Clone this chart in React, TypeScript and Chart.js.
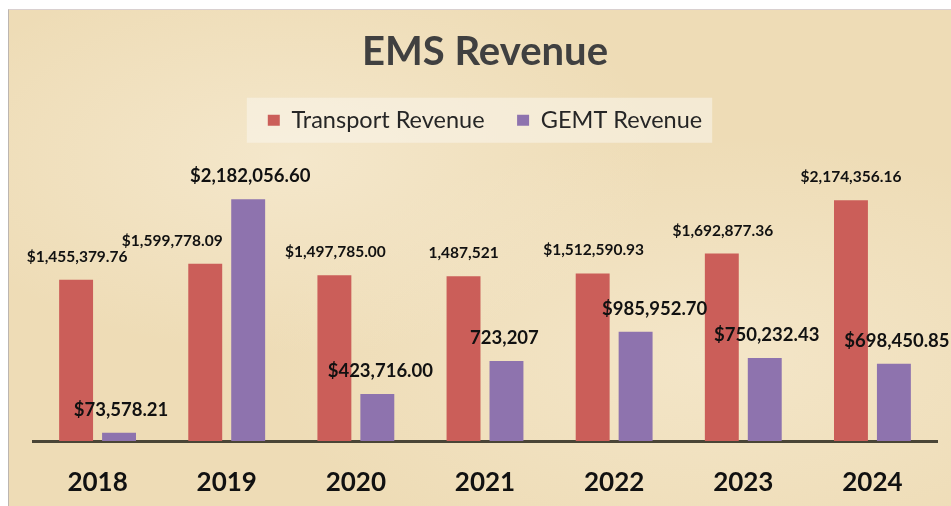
import React, { useEffect, useRef } from "react";
import { Chart, registerables } from "chart.js";

Chart.register(...registerables);

const years = ["2018", "2019", "2020", "2021", "2022", "2023", "2024"];
const transportRevenue = [1455379.76, 1599778.09, 1497785.0, 1487521, 1512590.93, 1692877.36, 2174356.16];
const gemtRevenue = [73578.21, 2182056.6, 423716.0, 723207, 985952.7, 750232.43, 698450.85];
const transportLabels = ["$1,455,379.76", "$1,599,778.09", "$1,497,785.00", "1,487,521", "$1,512,590.93", "$1,692,877.36", "$2,174,356.16"];
const gemtLabels = ["$73,578.21", "$2,182,056.60", "$423,716.00", "723,207", "$985,952.70", "$750,232.43", "$698,450.85"];
const yMax = 2700000;

// label nudges (layout only)
const labelNudgeX = [
  [1, -33, 1, 0, 1, 1, 0],
  [2, 2, 3, -2, 19, 2, 3],
];
const labelFonts = [
  { size: 15.5, weight: "bold" },
  { size: 18.5, weight: "bold" },
];

const legendBackdrop = {
  id: "legendBackdrop",
  beforeDraw(chart: any) {
    const lg = chart.legend;
    if (!lg || !lg.legendHitBoxes || !lg.legendHitBoxes.length) return;
    const boxes = lg.legendHitBoxes;
    const first = boxes[0];
    const last = boxes[boxes.length - 1];
    const cy = first.top + first.height / 2;
    const left = first.left - 21;
    const right = last.left + last.width + 10;
    const ctx = chart.ctx;
    ctx.save();
    ctx.fillStyle = "rgba(250,246,236,0.55)";
    ctx.fillRect(left, cy - 22.5, right - left, 45);
    ctx.restore();
  },
};

const valueLabels = {
  id: "valueLabels",
  afterDatasetsDraw(chart: any) {
    const ctx = chart.ctx;
    const sets = [transportLabels, gemtLabels];
    ctx.save();
    ctx.fillStyle = "#111111";
    ctx.textAlign = "center";
    ctx.textBaseline = "middle";
    sets.forEach((labels, di) => {
      const meta = chart.getDatasetMeta(di);
      const f = labelFonts[di];
      ctx.font = `${f.weight} ${f.size}px Lato`;
      meta.data.forEach((bar: any, i: number) => {
        ctx.fillText(labels[i], bar.x + labelNudgeX[di][i], bar.y - 23);
      });
    });
    ctx.restore();
  },
};

export default function App() {
  const ref = useRef<HTMLCanvasElement>(null);
  useEffect(() => {
    if (!ref.current) return;
    const chart = new Chart(ref.current, {
      type: "bar",
      data: {
        labels: years,
        datasets: [
          {
            label: "Transport Revenue",
            data: transportRevenue,
            backgroundColor: "#cb5e59",
            borderWidth: 0,
          },
          {
            label: "GEMT Revenue",
            data: gemtRevenue,
            backgroundColor: "#8e73ae",
            borderWidth: 0,
          },
        ],
      },
      options: {
        responsive: false,
        animation: false,
        layout: { padding: { left: 24, right: 14, top: 0, bottom: 0 } },
        datasets: {
          bar: { categoryPercentage: 0.665, barPercentage: 0.79 },
        },
        scales: {
          x: {
            grid: { display: false, drawTicks: false },
            border: { display: true, color: "#4a4536", width: 3 },
            ticks: {
              color: "#111111",
              padding: 26,
              font: { family: "Lato", size: 26, weight: "bold" },
            },
            afterFit: (s: any) => {
              s.height = 65;
            },
          },
          y: { display: false, min: 0, max: yMax },
        },
        plugins: {
          tooltip: { enabled: false },
          title: {
            display: true,
            text: "EMS Revenue",
            color: "#404040",
            font: { family: "Lato", size: 40, weight: "bold" },
            padding: { top: 18, bottom: 0 },
          },
          legend: {
            display: true,
            position: "top",
            labels: {
              color: "#262626",
              font: { family: "Lato", size: 23.5 },
              boxWidth: 12,
              boxHeight: 11,
              padding: 32.5,
            },
          },
        },
      },
      plugins: [legendBackdrop, valueLabels],
    });
    return () => chart.destroy();
  }, []);

  return (
    <div
      style={{
        position: "fixed",
        left: 8,
        top: 9,
        width: 942,
        height: 496,
        borderLeft: "1px solid #bdb6b0",
        borderTop: "1px solid #d9d0d0",
        background:
          "radial-gradient(ellipse at 30% 30%, rgba(247,236,212,0.7) 0%, rgba(247,236,212,0) 40%), radial-gradient(ellipse at 75% 70%, rgba(247,236,212,0.6) 0%, rgba(247,236,212,0) 45%), #eedcb6",
      }}
    >
      <canvas ref={ref} width={942} height={496} style={{ display: "block" }} />
    </div>
  );
}
